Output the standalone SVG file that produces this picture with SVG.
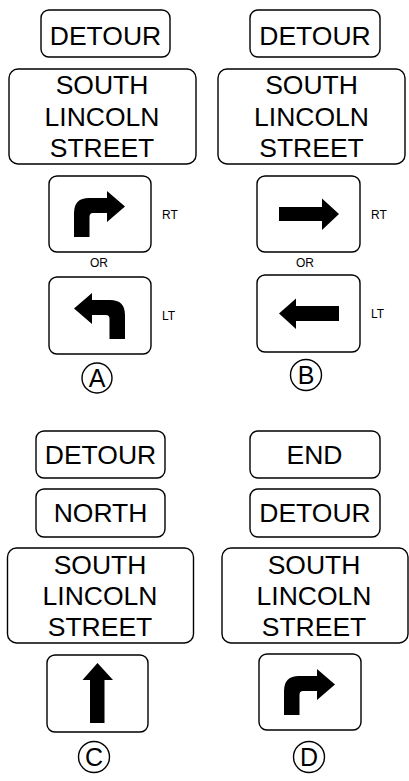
<svg xmlns="http://www.w3.org/2000/svg" width="409" height="781" viewBox="0 0 409 781">
  <defs>
    <style>
      .sign { fill: #fff; stroke: #000; stroke-width: 1.4; }
      .big { font-family: "Liberation Sans", Arial, sans-serif; font-size: 26.5px; fill: #000; text-anchor: middle; }
      .small { font-family: "Liberation Sans", Arial, sans-serif; font-size: 12px; fill: #000; }
      .mid { text-anchor: middle; }
      .ring { fill: none; stroke: #000; stroke-width: 1.4; }
      .letter { font-family: "Liberation Sans", Arial, sans-serif; font-size: 25px; fill: #000; text-anchor: middle; }
      .arrow { fill: #000; stroke: none; }
    </style>
    <!-- right-turn arrow shape, drawn in the coordinates of the first panel -->
    <path id="turnRight" class="arrow" d="M74,237 V213 Q74,198 89,198 H107 V191 L125,206.5 L107,222 V213 H93 Q89.5,213 89.5,217 V237 Z"/>
  </defs>
  <rect width="409" height="781" fill="#fff"/>

  <!-- Panel A -->
  <g id="a-detour">
    <rect class="sign" x="41" y="10" width="129" height="47" rx="8"/>
    <text class="big" x="105.5" y="45">DETOUR</text>
  </g>
  <g id="a-street">
    <rect class="sign" x="9" y="69" width="187" height="95" rx="9"/>
    <text class="big" x="102" y="94">SOUTH</text>
    <text class="big" x="102" y="126">LINCOLN</text>
    <text class="big" x="102" y="157">STREET</text>
  </g>
  <g id="a-right">
    <rect class="sign" x="49" y="176" width="102" height="76" rx="8"/>
    <use href="#turnRight"/>
    <text class="small" x="162" y="218.5">RT</text>
  </g>
  <text class="small mid" x="99" y="267">OR</text>
  <g id="a-left">
    <rect class="sign" x="49" y="277" width="102" height="77" rx="8"/>
    <use href="#turnRight" transform="translate(199,102) scale(-1,1)"/>
    <text class="small" x="162" y="320">LT</text>
  </g>
  <g id="a-label">
    <circle class="ring" cx="97" cy="378" r="15"/>
    <text class="letter" x="97" y="387">A</text>
  </g>

  <!-- Panel B -->
  <g id="b-detour">
    <rect class="sign" x="250" y="10" width="130" height="47" rx="8"/>
    <text class="big" x="315" y="45">DETOUR</text>
  </g>
  <g id="b-street">
    <rect class="sign" x="218" y="69" width="187" height="95" rx="9"/>
    <text class="big" x="311.5" y="94">SOUTH</text>
    <text class="big" x="311.5" y="126">LINCOLN</text>
    <text class="big" x="311.5" y="157">STREET</text>
  </g>
  <g id="b-right">
    <rect class="sign" x="257" y="176" width="103" height="76" rx="8"/>
    <path class="arrow" d="M279,207 H322 V198.5 L339,214 L322,230 V221 H279 Z"/>
    <text class="small" x="371" y="218.5">RT</text>
  </g>
  <text class="small mid" x="305" y="267">OR</text>
  <g id="b-left">
    <rect class="sign" x="257" y="275" width="103" height="77" rx="8"/>
    <path class="arrow" d="M279,313.5 L296,298.5 V306 H339 V321 H296 V329 Z"/>
    <text class="small" x="371" y="318">LT</text>
  </g>
  <g id="b-label">
    <circle class="ring" cx="306" cy="375" r="15.5"/>
    <text class="letter" x="306" y="384">B</text>
  </g>

  <!-- Panel C -->
  <g id="c-detour">
    <rect class="sign" x="36" y="431" width="129" height="47" rx="8"/>
    <text class="big" x="100.5" y="464">DETOUR</text>
  </g>
  <g id="c-north">
    <rect class="sign" x="36" y="489" width="129" height="48" rx="8"/>
    <text class="big" x="100.5" y="522">NORTH</text>
  </g>
  <g id="c-street">
    <rect class="sign" x="7.5" y="548" width="186" height="95" rx="9"/>
    <text class="big" x="100" y="574">SOUTH</text>
    <text class="big" x="100" y="605">LINCOLN</text>
    <text class="big" x="100" y="636">STREET</text>
  </g>
  <g id="c-ahead">
    <rect class="sign" x="47" y="655" width="101" height="77" rx="8"/>
    <path class="arrow" d="M90,723 V680 H82.5 L97.5,663 L113,680 H104.5 V723 Z"/>
  </g>
  <g id="c-label">
    <circle class="ring" cx="94" cy="757" r="15.5"/>
    <text class="letter" x="94" y="766">C</text>
  </g>

  <!-- Panel D -->
  <g id="d-end">
    <rect class="sign" x="250" y="431" width="130" height="47" rx="8"/>
    <text class="big" x="314.5" y="464">END</text>
  </g>
  <g id="d-detour">
    <rect class="sign" x="250" y="489" width="130" height="48" rx="8"/>
    <text class="big" x="315" y="522">DETOUR</text>
  </g>
  <g id="d-street">
    <rect class="sign" x="222" y="548" width="186" height="95" rx="9"/>
    <text class="big" x="314" y="574">SOUTH</text>
    <text class="big" x="314" y="605">LINCOLN</text>
    <text class="big" x="314" y="636">STREET</text>
  </g>
  <g id="d-right">
    <rect class="sign" x="259" y="654" width="102" height="76" rx="8"/>
    <use href="#turnRight" transform="translate(210,478)"/>
  </g>
  <g id="d-label">
    <circle class="ring" cx="309" cy="757" r="15.5"/>
    <text class="letter" x="309" y="766">D</text>
  </g>

  <!-- connectors: none in this layout -->
  <g id="connectors"/>
</svg>
